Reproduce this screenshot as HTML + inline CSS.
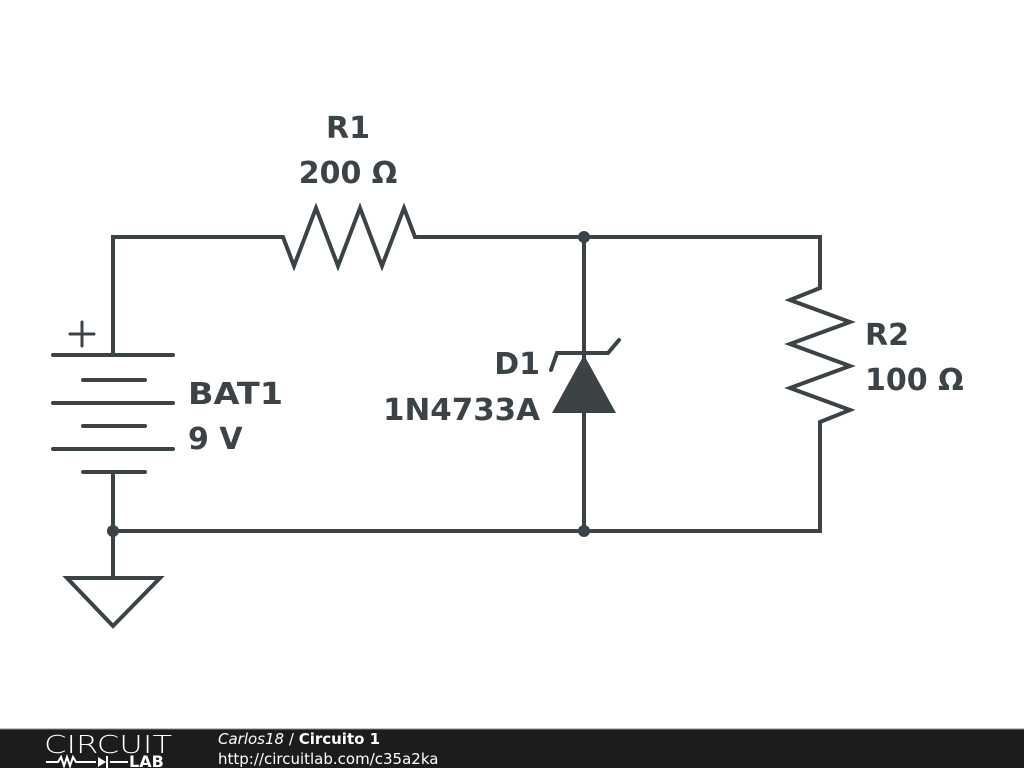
<!DOCTYPE html>
<html><head><meta charset="utf-8"><style>
body{margin:0;width:1024px;height:768px;background:#fff;overflow:hidden;font-family:"Liberation Sans",sans-serif}
</style></head><body>
<svg width="1024" height="768" style="position:absolute;left:0;top:0">
<g stroke="#3b4347" stroke-width="4" fill="none" stroke-linecap="round" stroke-linejoin="miter">
<polyline points="113,355 113,237 283,237 294,266 316,208 338,266 360,208 382,266 404,208 415,237 820,237 820,288 790,300 850,322 790,344 850,366 790,388 850,410 820,422 820,531 113,531"/>
<line x1="113" y1="472" x2="113" y2="578"/>
<polygon points="67,578 160,578 113,626"/>
<line x1="53" y1="355" x2="173" y2="355"/>
<line x1="83" y1="380" x2="145" y2="380"/>
<line x1="53" y1="403" x2="173" y2="403"/>
<line x1="83" y1="426" x2="145" y2="426"/>
<line x1="53" y1="449" x2="173" y2="449"/>
<line x1="83" y1="472" x2="145" y2="472"/>
<line x1="70" y1="334" x2="94" y2="334" stroke-width="3"/>
<line x1="82" y1="322" x2="82" y2="346" stroke-width="3"/>
<line x1="584" y1="237" x2="584" y2="531"/>
<polyline points="551,370 557,353 608,353 619,340"/>
</g>
<polygon points="584,355 552,413 616,413" fill="#3b4347"/>
<circle cx="584" cy="237" r="6" fill="#3b4347"/>
<circle cx="584" cy="531" r="6" fill="#3b4347"/>
<circle cx="113" cy="531" r="6" fill="#3b4347"/>
<g fill="#3b4347" font-family="DejaVu Sans,sans-serif" font-weight="bold" font-size="30">
<text x="348" y="138" text-anchor="middle">R1</text>
<text x="348" y="183" text-anchor="middle">200 Ω</text>
<text x="865" y="345">R2</text>
<text x="865" y="390">100 Ω</text>
<text x="188" y="404" textLength="95" lengthAdjust="spacingAndGlyphs">BAT1</text>
<text x="188" y="449">9 V</text>
<text x="540" y="374" text-anchor="end">D1</text>
<text x="540" y="420" text-anchor="end" textLength="157" lengthAdjust="spacingAndGlyphs">1N4733A</text>
</g>
<rect x="0" y="729" width="1024" height="39" fill="#1c1c1c"/>
<line x1="0" y1="729" x2="1024" y2="729" stroke="#888" stroke-width="1"/>
<text x="44" y="753" fill="#fff" font-size="25" font-family="DejaVu Sans,sans-serif" font-weight="200" textLength="128" lengthAdjust="spacingAndGlyphs">CIRCUIT</text>
<g stroke="#fff" stroke-width="2" fill="none"><polyline points="46,762 58,762 61,757 64,766 67,757 70,766 73,757 76,762 96,762"/><line x1="110" y1="762" x2="128" y2="762"/></g>
<polygon points="98,757 98,767 106,762" fill="#fff"/><line x1="107" y1="756" x2="107" y2="768" stroke="#fff" stroke-width="2"/>
<text x="129" y="767" fill="#fff" font-size="16" font-weight="bold" font-family="DejaVu Sans,sans-serif">LAB</text>
<text x="218" y="744" fill="#fff" font-size="15" font-family="DejaVu Sans,sans-serif"><tspan font-style="italic">Carlos18</tspan> / <tspan font-weight="bold">Circuito 1</tspan></text>
<text x="218" y="764" fill="#fff" font-size="15" font-family="DejaVu Sans,sans-serif">http://circuitlab.com/c35a2ka</text>
</svg>
</body></html>
